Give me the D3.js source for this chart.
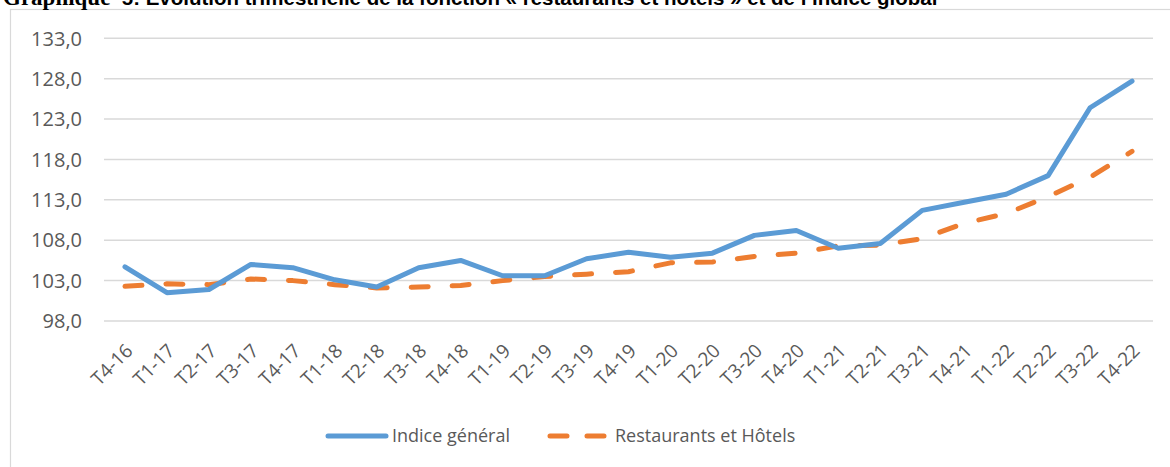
<!DOCTYPE html>
<html>
<head>
<meta charset="utf-8">
<script src="https://cdn.jsdelivr.net/npm/d3@7"></script>
<style>
  html, body { margin: 0; padding: 0; background: #fff; }
  svg { display: block; }
</style>
</head>
<body>
<svg id="chart" width="1170" height="467"></svg>
<script>
const categories = ["T4-16","T1-17","T2-17","T3-17","T4-17","T1-18","T2-18","T3-18","T4-18",
  "T1-19","T2-19","T3-19","T4-19","T1-20","T2-20","T3-20","T4-20",
  "T1-21","T2-21","T3-21","T4-21","T1-22","T2-22","T3-22","T4-22"];
const indiceGeneral = [104.7,101.5,101.9,105.0,104.6,103.1,102.2,104.6,105.5,
  103.6,103.6,105.7,106.5,105.9,106.4,108.6,109.2,
  107.0,107.6,111.7,112.7,113.7,116.0,124.4,127.7];
const restaurantsHotels = [102.3,102.6,102.5,103.2,103.0,102.5,102.1,102.2,102.4,
  103.0,103.5,103.8,104.1,105.2,105.3,106.0,106.4,
  107.3,107.4,108.2,110.1,111.3,113.4,115.8,119.0];
const yTicks = [98,103,108,113,118,123,128,133];
const seriesNames = ["Indice général","Restaurants et Hôtels"];
const titleLead = "Graphique";
const titleRest = "  5: Evolution trimestrielle de la fonction « restaurants et hotels » et de l’indice global";

const svg = d3.select("#chart");
const blue = "#5B9BD5", orange = "#ED7D31", grid = "#D9D9D9", txt = "#595959";

// frame
svg.append("rect").attr("x",10.5).attr("y",9.5).attr("width",1200).attr("height",500)
  .attr("fill","none").attr("stroke",grid).attr("stroke-width",1.2);

// title (cut off at top, as in the reference)
const title = svg.append("text").attr("x",3).attr("y",5).attr("fill","#000").attr("font-weight","bold")
  .attr("xml:space","preserve");
title.append("tspan").attr("font-family","'Liberation Serif', serif").attr("font-size",23).text(titleLead);
title.append("tspan").attr("font-family","'Liberation Sans', Arial, sans-serif").attr("font-size",20.5).text(titleRest);

const x = d3.scaleBand().domain(categories).range([104,1153]).padding(0);
const cx = d => x(d) + x.bandwidth()/2;
const y = d3.scaleLinear().domain([98,133]).range([321,38.3]);

// gridlines
svg.append("g").selectAll("line").data(yTicks).join("line")
  .attr("x1",104).attr("x2",1153)
  .attr("y1",d=>y(d)).attr("y2",d=>y(d))
  .attr("stroke",grid).attr("stroke-width",1.5);

// y labels
const fmt = v => v.toFixed(1).replace(".", ",");
svg.append("g").selectAll("text").data(yTicks).join("text")
  .attr("x",82).attr("y",d=>y(d)).attr("dy","0.36em")
  .attr("text-anchor","end")
  .attr("font-family","'Open Sans', sans-serif").attr("font-size",20)
  .attr("fill",txt).text(fmt);

// x labels
svg.append("g").selectAll("text").data(categories).join("text")
  .attr("transform",d=>`translate(${cx(d)+9},352) rotate(-45)`)
  .attr("text-anchor","end")
  .attr("font-family","'Open Sans', sans-serif").attr("font-size",19)
  .attr("fill",txt).text(d=>d);

const line = d3.line().x((d,i)=>cx(categories[i])).y(d=>y(d));

svg.append("path").datum(restaurantsHotels).attr("d",line)
  .attr("fill","none").attr("stroke",orange).attr("stroke-width",5)
  .attr("stroke-linecap","round").attr("stroke-linejoin","round")
  .attr("stroke-dasharray","17,24");

svg.append("path").datum(indiceGeneral).attr("d",line)
  .attr("fill","none").attr("stroke",blue).attr("stroke-width",5)
  .attr("stroke-linecap","round").attr("stroke-linejoin","round");

// legend
const lg = svg.append("g");
lg.append("line").attr("x1",328).attr("x2",386).attr("y1",436).attr("y2",436)
  .attr("stroke",blue).attr("stroke-width",5).attr("stroke-linecap","round");
lg.append("text").attr("x",392).attr("y",436).attr("dy","0.36em")
  .attr("font-family","'Open Sans', sans-serif").attr("font-size",18).attr("fill",txt).text(seriesNames[0]);
lg.append("line").attr("x1",550).attr("x2",604).attr("y1",436).attr("y2",436)
  .attr("stroke",orange).attr("stroke-width",5).attr("stroke-linecap","round")
  .attr("stroke-dasharray","17,20");
lg.append("text").attr("x",615).attr("y",436).attr("dy","0.36em")
  .attr("font-family","'Open Sans', sans-serif").attr("font-size",18).attr("fill",txt).text(seriesNames[1]);
</script>
</body>
</html>
